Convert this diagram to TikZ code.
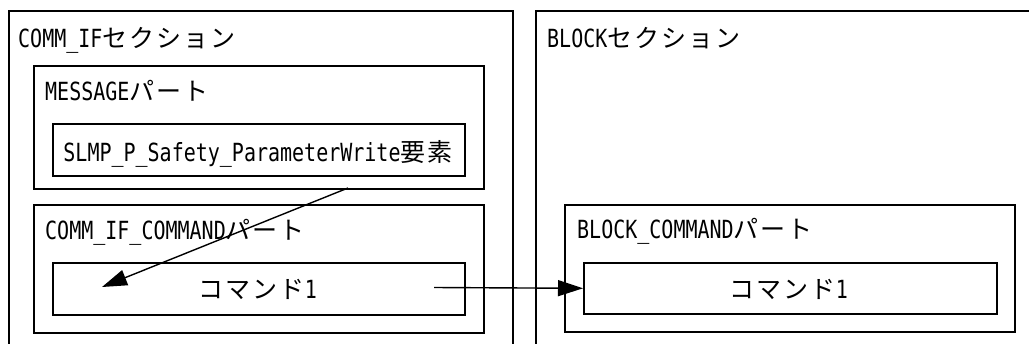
\documentclass[tikz,border=0pt]{standalone}
\usepackage{fontspec}
\setmainfont{DejaVu Sans Mono}[FakeStretch=0.8]
\newfontfamily\jp{Noto Sans CJK JP}[LetterSpace=8]
\usetikzlibrary{arrows.meta}
\begin{document}
\begin{tikzpicture}[x=1pt,y=-1pt,
  box/.style={draw, line width=1.6pt, inner sep=0pt, anchor=north west},
  lbl/.style={anchor=base west, inner sep=0pt, font={\fontsize{25}{28}\selectfont}},
  ctr/.style={anchor=base, inner sep=0pt, font={\fontsize{25}{28}\selectfont}},
  arr/.style={line width=1.4pt, -{Triangle[length=25pt,width=16pt]}}]
\useasboundingbox (0,0) rectangle (1029,343);
\clip (0,0) rectangle (1029,343);
\fill[white] (0,0) rectangle (1029,343);
\node[box, minimum width=504pt, minimum height=360pt] (commif) at (8,10) {};
\node[box, minimum width=520pt, minimum height=360pt] (block) at (535,10) {};
\node[box, minimum width=450pt, minimum height=123pt] (msg) at (33,65) {};
\node[box, minimum width=412pt, minimum height=52pt] (slmp) at (52,123) {};
\node[box, minimum width=450pt, minimum height=128pt] (cifcmd) at (33,204) {};
\node[box, minimum width=412pt, minimum height=52pt] (cmdL) at (52,262) {};
\node[box, minimum width=450pt, minimum height=127pt] (blkcmd) at (564,204) {};
\node[box, minimum width=413pt, minimum height=51pt] (cmdR) at (583,262) {};
\node[lbl] (t1) at (18,47) {COMM\_IF{\jp セクション}};
\node[lbl] (t2) at (45,100) {MESSAGE{\jp パート}};
\node[ctr] (t3) at (258,161) {SLMP\_P\_Safety\_ParameterWrite{\jp 要素}};
\node[lbl] (t4) at (45,239) {COMM\_IF\_COMMAND{\jp パート}};
\node[ctr] (t5) at (258,298) {{\jp コマンド}1};
\node[lbl] (t6) at (547,47) {BLOCK{\jp セクション}};
\node[lbl] (t7) at (577,238) {BLOCK\_COMMAND{\jp パート}};
\node[ctr] (t8) at (789,298) {{\jp コマンド}1};
\coordinate (a1s) at (348,188);
\coordinate (a1e) at (102,287);
\coordinate (a2s) at (434,287.5);
\draw[arr] (a1s) -- (a1e);
\draw[arr] (a2s) -- (cmdR.west);
\end{tikzpicture}
\end{document}
